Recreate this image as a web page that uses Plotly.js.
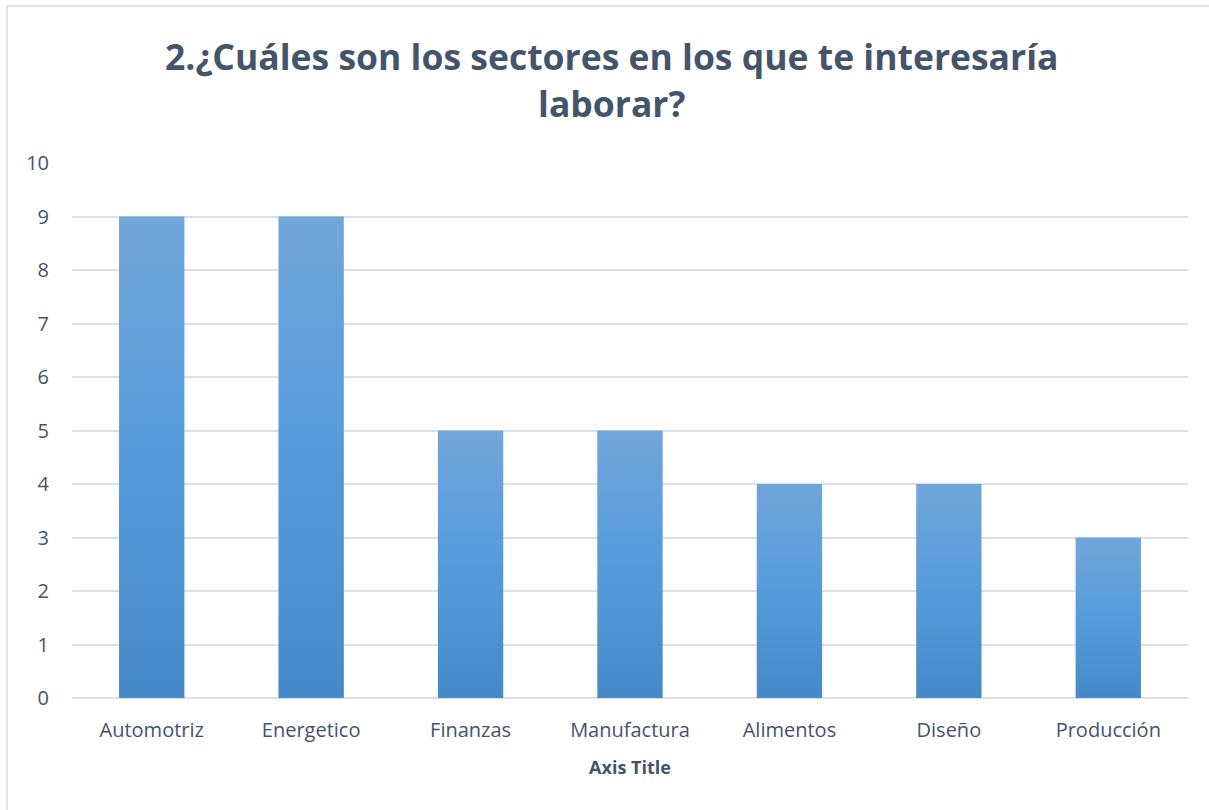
<!DOCTYPE html>
<html>
<head>
<meta charset="utf-8">
<script src="https://cdn.plot.ly/plotly-3.0.1.min.js"></script>
<style>html,body{margin:0;padding:0;background:#fff;}#chart{width:1209px;height:810px;}</style>
</head>
<body>
<div id="chart"></div>
<script>
const categories = ["Automotriz", "Energetico", "Finanzas", "Manufactura", "Alimentos", "Diseño", "Producción"];
const values = [9, 9, 5, 5, 4, 4, 3];
const yTicks = [0, 1, 2, 3, 4, 5, 6, 7, 8, 9, 10];
const chartTitle = "2.¿Cuáles son los sectores en los que te interesaría<br>laborar?";
const xAxisTitle = "Axis Title";

const FONT = "'Open Sans', 'Noto Sans', sans-serif";
const textColor = "#44546A";
const gridColor = "#DCE0E6";

const trace = {
  type: "bar",
  x: categories,
  y: values,
  marker: { color: "#5B9BD5", line: { width: 0 } },
  hoverinfo: "x+y"
};

const layout = {
  width: 1209,
  height: 810,
  margin: { l: 72, r: 21, t: 163, b: 112 },
  paper_bgcolor: "#ffffff",
  plot_bgcolor: "#ffffff",
  showlegend: false,
  bargap: 0.59,
  font: { family: FONT, color: textColor },
  title: {
    text: chartTitle,
    font: { family: FONT, size: 35.5, color: textColor, weight: "bold" },
    x: 0.506, xanchor: "center",
    y: 0.913, yanchor: "middle", yref: "container"
  },
  xaxis: {
    type: "category",
    showgrid: false,
    showline: false,
    zeroline: false,
    ticks: "",
    ticklabelstandoff: 18,
    tickfont: { family: FONT, size: 20, color: textColor },
    title: { text: xAxisTitle, font: { family: FONT, size: 18, color: textColor, weight: "bold" }, standoff: 19 }
  },
  yaxis: {
    range: [0, 10],
    tickvals: yTicks,
    ticktext: yTicks.map(String),
    showgrid: true,
    gridcolor: gridColor,
    gridwidth: 2,
    zeroline: true,
    zerolinecolor: gridColor,
    zerolinewidth: 2,
    showline: false,
    ticks: "",
    ticklabelstandoff: 22,
    tickfont: { family: FONT, size: 20, color: textColor }
  },
  shapes: [
    { type: "line", xref: "paper", yref: "paper", x0: -0.0582, x1: 1.1, y0: 1.2935, y1: 1.2935, line: { color: "#D9D9D9", width: 1.5 } },
    { type: "line", xref: "paper", yref: "paper", x0: -0.0582, x1: -0.0582, y0: 1.2935, y1: -0.3, line: { color: "#D9D9D9", width: 1.5 } }
  ]
};

Plotly.newPlot("chart", [trace], layout, { displayModeBar: false }).then(function (gd) {
  const svg = gd.querySelector("svg.main-svg");
  const ns = "http://www.w3.org/2000/svg";
  let defs = svg.querySelector("defs");
  if (!defs) { defs = document.createElementNS(ns, "defs"); svg.insertBefore(defs, svg.firstChild); }
  const grad = document.createElementNS(ns, "linearGradient");
  grad.setAttribute("id", "barGrad");
  grad.setAttribute("x1", "0"); grad.setAttribute("y1", "0");
  grad.setAttribute("x2", "0"); grad.setAttribute("y2", "1");
  [["0", "#72A6DA"], ["0.5", "#559BDB"], ["1", "#4689C8"]].forEach(function (s) {
    const st = document.createElementNS(ns, "stop");
    st.setAttribute("offset", s[0]);
    st.setAttribute("stop-color", s[1]);
    grad.appendChild(st);
  });
  defs.appendChild(grad);
  gd.querySelectorAll(".bars .point path").forEach(function (p) {
    p.style.fill = "url(#barGrad)";
  });
});
</script>
</body>
</html>
